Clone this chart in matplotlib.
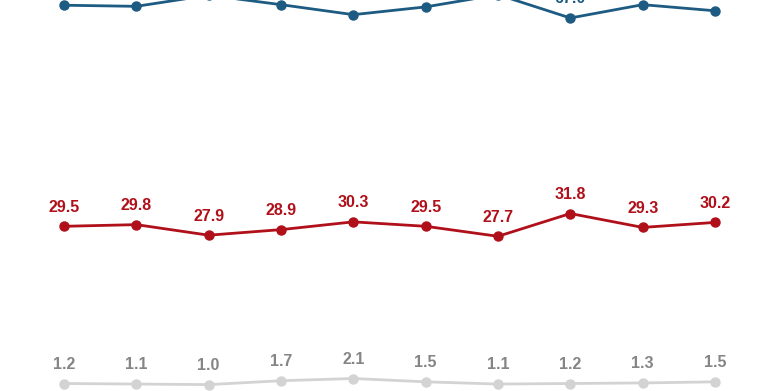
import matplotlib
matplotlib.use("Agg")
import matplotlib.pyplot as plt

categories = list(range(1, 11))
blue_vals = [69.3, 69.1, 71.1, 69.4, 67.6, 69.0, 71.2, 67.0, 69.4, 68.3]
red_vals = [29.5, 29.8, 27.9, 28.9, 30.3, 29.5, 27.7, 31.8, 29.3, 30.2]
gray_vals = [1.2, 1.1, 1.0, 1.7, 2.1, 1.5, 1.1, 1.2, 1.3, 1.5]

series = [
    (blue_vals, "#1d5b82", "#1d5b82"),
    (red_vals, "#b0101a", "#b0101a"),
    (gray_vals, "#d3d3d3", "#858585"),
]

fig = plt.figure(figsize=(7.83, 3.91), dpi=100)
ax = fig.add_axes([0, 0, 1, 1])
ax.set_xlim(0.115, 10.94)
ax.set_ylim(-0.15, 70.24)
ax.axis("off")

for vals, lc, tc in series:
    ax.plot(categories, vals, color=lc, lw=2, marker="o", ms=6.5, clip_on=True)
    for x, v in zip(categories, vals):
        ax.annotate(f"{v:.1f}", (x, v), xytext=(0, 10.5), textcoords="offset points",
                    ha="center", va="baseline", color=tc, fontsize=11.5,
                    fontweight="bold", family=["Liberation Sans", "DejaVu Sans"])

fig.savefig("out.png", dpi=100)
